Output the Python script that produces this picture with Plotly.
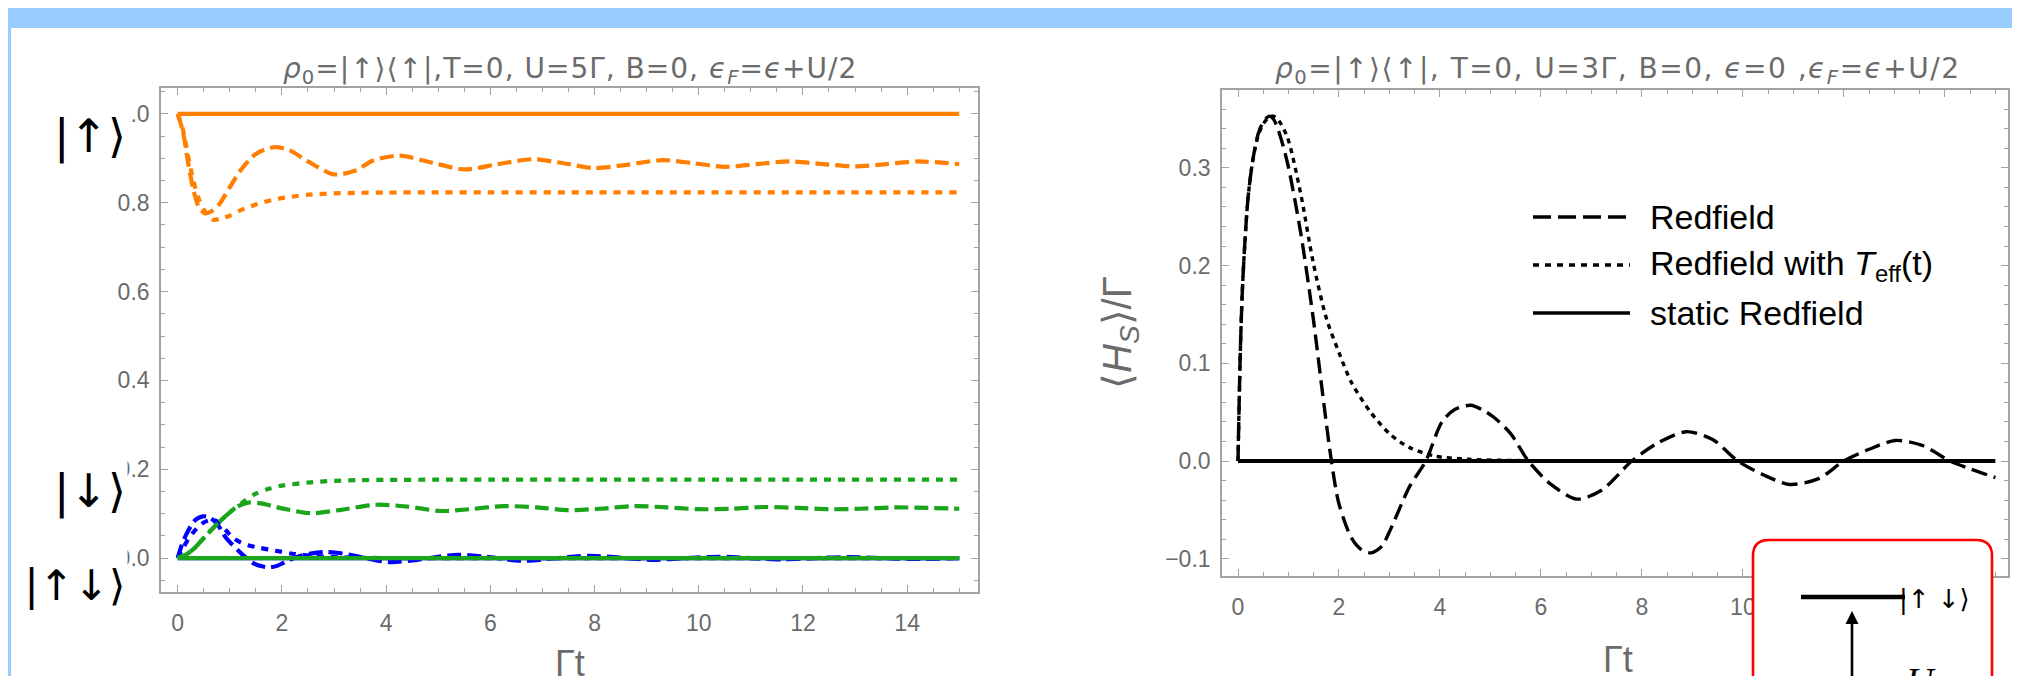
import plotly.graph_objects as go

W, H = 2020, 676


def px(x):
    return x / W


def py(y):
    return 1 - y / H


# ---------------- data : left panel (populations) ----------------
up_solid_t = [0, 15]
up_solid_v = [1.0, 1.0]

up_dash_t = [0, 0.1, 0.2, 0.3, 0.4, 0.52, 0.65, 0.8, 1.0, 1.2, 1.5, 1.85, 2.15, 2.5, 3.0, 3.4, 3.75,
             4.25, 4.9, 5.5, 6.15, 6.8, 7.4, 8.0, 8.65, 9.3, 9.9, 10.5, 11.1, 11.75, 12.4, 13.0, 13.6,
             14.2, 15.0]
up_dash_v = [1.0, 0.96, 0.89, 0.83, 0.792, 0.776, 0.781, 0.797, 0.835, 0.872, 0.910, 0.925, 0.918,
             0.893, 0.864, 0.872, 0.895, 0.906, 0.890, 0.875, 0.887, 0.898, 0.889, 0.878, 0.886, 0.896,
             0.889, 0.881, 0.887, 0.893, 0.887, 0.882, 0.887, 0.893, 0.887]

up_dot_t = [0, 0.1, 0.2, 0.3, 0.4, 0.5, 0.67, 0.85, 1.0, 1.2, 1.5, 1.85, 2.2, 2.5, 3.0, 3.5, 4.0, 5.0,
            6.0, 8.0, 10.0, 12.0, 15.0]
up_dot_v = [1.0, 0.965, 0.905, 0.85, 0.81, 0.785, 0.762, 0.765, 0.771, 0.783, 0.796, 0.807, 0.814,
            0.818, 0.821, 0.8225, 0.823, 0.8235, 0.8235, 0.8235, 0.8235, 0.8235, 0.8235]

down_solid_t = [0, 15]
down_solid_v = [0.0, 0.0]

down_dash_t = [0, 0.15, 0.3, 0.5, 0.75, 1.0, 1.15, 1.35, 1.6, 2.0, 2.55, 3.1, 3.8, 4.4, 5.05, 5.6,
               6.25, 6.9, 7.5, 8.1, 8.75, 9.4, 10.0, 10.6, 11.25, 11.9, 12.5, 13.1, 13.75, 14.4, 15.0]
down_dash_v = [0, 0.007, 0.02, 0.045, 0.076, 0.103, 0.116, 0.125, 0.123, 0.112, 0.101, 0.108, 0.120,
               0.116, 0.106, 0.110, 0.117, 0.114, 0.108, 0.111, 0.117, 0.114, 0.110, 0.111, 0.115,
               0.113, 0.110, 0.111, 0.114, 0.113, 0.111]

down_dot_t = [0, 0.15, 0.3, 0.5, 0.75, 1.0, 1.25, 1.5, 1.75, 2.0, 2.5, 3.0, 3.5, 4.0, 5.0, 6.0, 8.0,
              10.0, 12.0, 15.0]
down_dot_v = [0, 0.007, 0.02, 0.045, 0.076, 0.103, 0.126, 0.145, 0.156, 0.163, 0.170, 0.174, 0.1755,
              0.176, 0.1765, 0.1765, 0.1765, 0.1765, 0.1765, 0.1765]

dbl_solid_t = [0, 15]
dbl_solid_v = [0.0, 0.0]

dbl_dash_t = [0, 0.08, 0.16, 0.25, 0.35, 0.48, 0.6, 0.75, 0.93, 1.05, 1.18, 1.3, 1.44, 1.6, 1.76,
              1.92, 2.08, 2.33, 2.55, 2.8, 3.05, 3.3, 3.6, 4.06, 4.6, 5.0, 5.4, 5.9, 6.6, 7.2, 7.9,
              8.5, 9.1, 9.75, 10.4, 11.0, 11.6, 12.25, 12.9, 13.5, 14.1, 15.0]
dbl_dash_v = [0, 0.03, 0.052, 0.072, 0.087, 0.094, 0.092, 0.078, 0.045, 0.03, 0.015, 0.002, -0.011,
              -0.018, -0.021, -0.017, -0.0075, 0.004, 0.010, 0.0135, 0.012, 0.0075, 0.0, -0.009,
              -0.004, 0.003, 0.0075, 0.003, -0.006, -0.001, 0.005, 0.001, -0.004, 0.0, 0.003, 0.0,
              -0.003, 0.0, 0.002, 0.0, -0.002, 0.0]

dbl_dot_t = [0, 0.1, 0.2, 0.3, 0.4, 0.5, 0.6, 0.68, 0.8, 0.93, 1.05, 1.18, 1.35, 1.57, 1.88, 2.2,
             2.59, 3.16, 3.6, 4.2, 5.0, 6.0, 8.0, 15.0]
dbl_dot_v = [0, 0.022, 0.042, 0.058, 0.071, 0.08, 0.085, 0.086, 0.079, 0.062, 0.047, 0.037, 0.029,
             0.023, 0.0165, 0.0097, 0.005, 0.0015, 0.0005, 0.0, 0.0, 0.0, 0.0, 0.0]

# ---------------- data : right panel (energy) ----------------
hs_dash_t = [0, 0.05, 0.1, 0.2, 0.3, 0.4, 0.5, 0.62, 0.7, 0.79, 0.98, 1.24, 1.49, 1.68, 1.85, 2.0,
             2.25, 2.45, 2.64, 2.85, 3.02, 3.4, 3.72, 4.04, 4.3, 4.61, 4.85, 5.06, 5.4, 5.75, 6.2,
             6.71, 7.2, 7.8, 8.3, 8.88, 9.4, 9.9, 10.4, 10.92, 11.5, 12.0, 12.5, 13.02, 13.55, 14.1,
             14.5, 15.0]
hs_dash_v = [0, 0.12, 0.19, 0.27, 0.31, 0.335, 0.347, 0.353, 0.350, 0.340, 0.305, 0.234, 0.146,
             0.067, 0.0, -0.044, -0.079, -0.091, -0.094, -0.087, -0.070, -0.026, 0.0, 0.040, 0.053,
             0.057, 0.052, 0.045, 0.028, 0.0, -0.024, -0.039, -0.030, 0.0, 0.018, 0.030, 0.022, 0.0,
             -0.014, -0.024, -0.018, 0.0, 0.012, 0.021, 0.016, 0.0, -0.008, -0.017]

hs_dot_t = [0, 0.05, 0.1, 0.2, 0.3, 0.4, 0.5, 0.6, 0.7, 0.8, 0.98, 1.24, 1.49, 1.75, 2.0, 2.25,
            2.64, 3.02, 3.4, 3.9, 4.55, 5.2, 6.0, 8.0, 15.0]
hs_dot_v = [0, 0.12, 0.19, 0.27, 0.31, 0.333, 0.345, 0.351, 0.353, 0.349, 0.331, 0.274, 0.203, 0.146,
            0.111, 0.080, 0.049, 0.027, 0.0137, 0.005, 0.0018, 0.0007, 0.0002, 0.0, 0.0]

hs_solid_t = [0, 15]
hs_solid_v = [0.0, 0.0]

left_xticks = [0, 2, 4, 6, 8, 10, 12, 14]
left_yticks = [0.0, 0.2, 0.4, 0.6, 0.8, 1.0]
right_yticks = [-0.1, 0.0, 0.1, 0.2, 0.3]

legend_names = ["Redfield", "Redfield with <i>T</i><sub>eff</sub>(t)", "static Redfield"]

ket_part = "|↑⟩⟨↑|"
left_title = (f'<span style="letter-spacing:1px"><i>ρ</i><sub>0</sub>={ket_part},T=0, U=5Γ, '
              'B=0, <i>ϵ</i><sub><i>F</i></sub>=<i>ϵ</i>+U/2</span>')
right_title = (f'<span style="letter-spacing:1.5px"><i>ρ</i><sub>0</sub>={ket_part}, T=0, '
               'U=3Γ, B=0, <i>ϵ</i>=0 ,<i>ϵ</i><sub><i>F</i></sub>=<i>ϵ</i>+U/2</span>')

ORANGE = "#ff7f00"
GREEN = "#1aa51a"
BLUE = "#0000ff"
BLACK = "#000000"
DASH_L = "14px,6px"
DOT_L = "7px,7px"
DASH_R = "16px,7px"
DOT_R = "5px,5px"

fig = go.Figure()


def add(t, v, color, dash, xa="x", ya="y", width=4.2, name=""):
    fig.add_trace(go.Scatter(x=t, y=v, mode="lines", xaxis=xa, yaxis=ya, name=name,
                             line=dict(color=color, width=width, dash=dash, shape="spline",
                                       smoothing=0.8)))


# left panel
add(dbl_solid_t, dbl_solid_v, BLUE, "solid")
add(dbl_dot_t, dbl_dot_v, BLUE, DOT_L)
add(dbl_dash_t, dbl_dash_v, BLUE, DASH_L)
add(down_dot_t, down_dot_v, GREEN, DOT_L)
add(down_dash_t, down_dash_v, GREEN, DASH_L)
add(down_solid_t, down_solid_v, GREEN, "solid")
add(up_dot_t, up_dot_v, ORANGE, DOT_L)
add(up_dash_t, up_dash_v, ORANGE, DASH_L)
add(up_solid_t, up_solid_v, ORANGE, "solid")

# right panel
add(hs_dot_t, hs_dot_v, BLACK, DOT_R, "x2", "y2", 3.4, legend_names[1])
add(hs_dash_t, hs_dash_v, BLACK, DASH_R, "x2", "y2", 3.4, legend_names[0])
add(hs_solid_t, hs_solid_v, BLACK, "solid", "x2", "y2", 3.8, legend_names[2])

FRAME = "#a3a3a3"
TICKFONT = dict(family="Liberation Sans, Arial, sans-serif", size=23, color="#6b6b6b")


def axstyle(minor_dtick, **kw):
    d = dict(showline=True, linecolor=FRAME, linewidth=1.6, mirror="ticks", ticks="inside",
             ticklen=7, tickwidth=1.3, tickcolor=FRAME, showgrid=False, zeroline=False,
             tickfont=TICKFONT,
             minor=dict(ticks="inside", ticklen=4, tickwidth=1.1, tickcolor=FRAME,
                        dtick=minor_dtick, showgrid=False))
    d.update(kw)
    return d


fig.update_layout(
    width=W, height=H, autosize=False, margin=dict(l=0, r=0, t=0, b=0),
    paper_bgcolor="white", plot_bgcolor="white", showlegend=False,
    xaxis=axstyle(0.5, domain=[px(153), px(970)], range=[-0.3205, 15.36], anchor="y",
                  tickvals=left_xticks, ticklabelstandoff=10),
    yaxis=axstyle(0.05, domain=[py(584), py(80)], range=[-0.0764, 1.0584], anchor="x",
                  tickvals=left_yticks, tickformat=".1f", ticklabelstandoff=5),
    xaxis2=axstyle(0.5, domain=[px(1214), px(2000)], range=[-0.317, 15.25], anchor="y2",
                   tickvals=left_xticks, ticklabelstandoff=10),
    yaxis2=axstyle(0.02, domain=[py(568), py(82)], range=[-0.1177, 0.3797], anchor="x2",
                   tickvals=right_yticks, tickformat=".1f", ticklabelstandoff=5),
)

shapes = []
BAND = "#99ccff"
# slide frame (blue band and left border)
shapes.append(dict(type="rect", xref="paper", yref="paper", x0=0, x1=1, y0=py(20), y1=1,
                   fillcolor=BAND, line=dict(width=0), layer="above"))
shapes.append(dict(type="rect", xref="paper", yref="paper", x0=0, x1=px(3), y0=0, y1=1,
                   fillcolor=BAND, line=dict(width=0), layer="above"))

# legend samples (right panel)
leg_y = [209, 257, 305]
leg_dash = ["18px,7px", "6px,6px", "solid"]
for yy, dd in zip(leg_y, leg_dash):
    shapes.append(dict(type="line", xref="paper", yref="paper", x0=px(1525), x1=px(1622),
                       y0=py(yy), y1=py(yy), line=dict(color=BLACK, width=3.6, dash=dd),
                       layer="above"))

# inset box (red rounded rectangle with level diagram)
bx0, bx1, by0, byb, r = 1745, 1984, 532, 700, 16
path = (f"M{px(bx0)},{py(byb)} L{px(bx0)},{py(by0 + r)} "
        f"Q{px(bx0)},{py(by0)} {px(bx0 + r)},{py(by0)} "
        f"L{px(bx1 - r)},{py(by0)} Q{px(bx1)},{py(by0)} {px(bx1)},{py(by0 + r)} "
        f"L{px(bx1)},{py(byb)} Z")
shapes.append(dict(type="path", xref="paper", yref="paper", path=path, fillcolor="white",
                   line=dict(color="#ff0000", width=2.6), layer="above"))
shapes.append(dict(type="line", xref="paper", yref="paper", x0=px(1793), x1=px(1897),
                   y0=py(589), y1=py(589), line=dict(color=BLACK, width=4.5), layer="above"))

fig.update_layout(shapes=shapes)

ann = []
TITLEFONT = dict(family="DejaVu Sans, sans-serif", size=28, color="#6b6b6b")
ann.append(dict(text=left_title, x=px(562), y=py(63), xref="paper", yref="paper",
                showarrow=False, font=TITLEFONT, xanchor="center", yanchor="middle"))
ann.append(dict(text=right_title, x=px(1610), y=py(63), xref="paper", yref="paper",
                showarrow=False, font=TITLEFONT, xanchor="center", yanchor="middle"))

LABELFONT = dict(family="Liberation Sans, Arial, sans-serif", size=36, color="#6b6b6b")
ann.append(dict(text="Γt", x=px(562), y=py(655), xref="paper", yref="paper",
                showarrow=False, font=LABELFONT, xanchor="center", yanchor="middle"))
ann.append(dict(text="Γt", x=px(1610), y=py(651), xref="paper", yref="paper",
                showarrow=False, font=LABELFONT, xanchor="center", yanchor="middle"))
ann.append(dict(text="⟨<i>H</i><sub><i>S</i></sub>⟩/Γ", x=px(1112), y=py(325), xref="paper",
                yref="paper", showarrow=False, font=dict(LABELFONT, size=40), textangle=-90,
                xanchor="center", yanchor="middle"))

# legend texts
LEGFONT = dict(family="Liberation Sans, Arial, sans-serif", size=34, color=BLACK)
for yy, nm in zip(leg_y, legend_names):
    ann.append(dict(text=nm, x=px(1640), y=py(yy), xref="paper", yref="paper", showarrow=False,
                    font=LEGFONT, xanchor="left", yanchor="middle"))

# state kets on the left (cover part of the tick labels like the original overlay)
for txt, xr, yc, w, h, fs in [("|↑⟩", 122, 128, 78, 70, 46), ("|↓⟩", 120, 483, 74, 70, 46),
                              ("|↑↓⟩", 120, 577, 104, 78, 42)]:
    ann.append(dict(text=txt, x=px(xr), y=py(yc), xref="paper", yref="paper", showarrow=False,
                    font=dict(family="DejaVu Sans, sans-serif", size=fs, color=BLACK),
                    xanchor="right", yanchor="middle", bgcolor="white",
                    width=w, height=h, borderpad=0))

# inset texts
ann.append(dict(text="|↑ ↓⟩", x=px(1926), y=py(591), xref="paper", yref="paper", showarrow=False,
                font=dict(family="DejaVu Sans, sans-serif", size=26, color=BLACK),
                xanchor="center", yanchor="middle"))
ann.append(dict(text="", x=px(1844), y=py(603), xref="paper", yref="paper", showarrow=True,
                ax=0, ay=100, arrowhead=2, arrowsize=1, arrowwidth=2.6, arrowcolor=BLACK))
ann.append(dict(text="<i>U</i>", x=px(1913), y=py(650), xref="paper", yref="paper",
                showarrow=False, font=dict(family="Liberation Serif, serif", size=38, color=BLACK),
                xanchor="center", yanchor="top"))

fig.update_layout(annotations=ann)

fig.write_html("out.html")
